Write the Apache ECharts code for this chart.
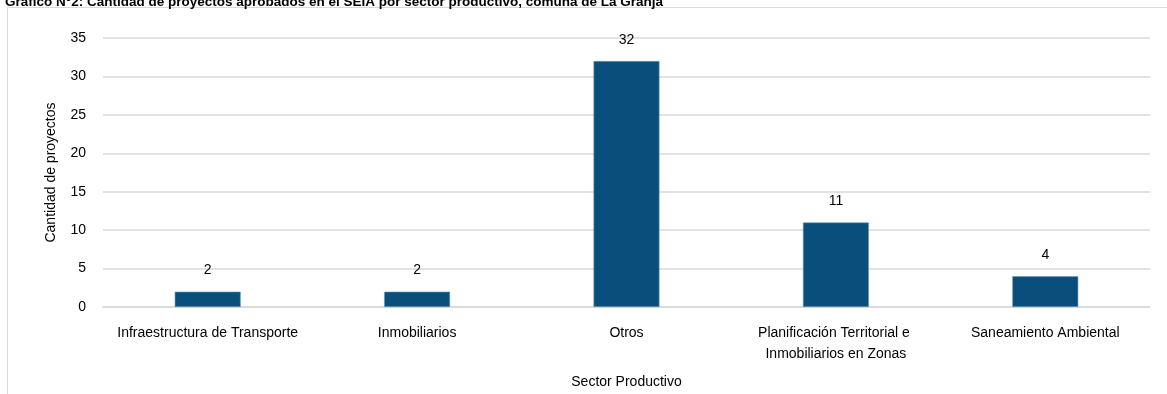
<!DOCTYPE html>
<html>
<head>
<meta charset="utf-8">
<script src="https://cdn.jsdelivr.net/npm/echarts@6/dist/echarts.min.js"></script>
<style>
html,body{margin:0;padding:0;background:#fff;}
#c{width:1167px;height:394px;}
</style>
</head>
<body>
<div id="c"></div>
<script>
const categories = ["Infraestructura de Transporte", "Inmobiliarios", "Otros", "Planificación Territorial e Inmobiliarios en Zonas", "Saneamiento Ambiental"];
const values = [2, 2, 32, 11, 4];
const yTicks = { min: 0, max: 35, interval: 5 };
const titleBold = "Gráfico N°2:";
const titleText = " Cantidad de proyectos aprobados en el SEIA por sector productivo, comuna de La Granja";
const yName = "Cantidad de proyectos";
const xName = "Sector Productivo";

const font = "'Liberation Sans', Arial, sans-serif";
const chart = echarts.init(document.getElementById('c'), null, { renderer: 'canvas' });
chart.setOption({
  animation: false,
  backgroundColor: '#fff',
  title: {
    text: '{b|' + titleBold + '}{n|' + titleText + '}',
    left: 0, top: -10,
    textStyle: {
      rich: {
        b: { fontFamily: font, fontSize: 13.5, fontWeight: 'bold', color: '#000' },
        n: { fontFamily: font, fontSize: 13.5, color: '#000' }
      }
    }
  },
  graphic: [{
    type: 'rect', silent: true,
    shape: { x: 7.5, y: 7.5, width: 1200, height: 400 },
    style: { fill: 'none', stroke: '#d9d9d9', lineWidth: 1 }
  }],
  grid: { left: 103, right: 17, top: 38, bottom: 85 },
  xAxis: {
    type: 'category',
    data: categories,
    name: xName,
    nameLocation: 'middle',
    nameGap: 68,
    nameTextStyle: { fontFamily: font, fontSize: 14, color: '#000' },
    axisLine: { show: true, lineStyle: { color: '#d9d9d9', width: 1.5 } },
    axisTick: { show: false },
    axisLabel: {
      interval: 0, margin: 16, color: '#000', fontFamily: font, fontSize: 14,
      width: 195, overflow: 'break', lineHeight: 21
    }
  },
  yAxis: {
    type: 'value',
    min: yTicks.min, max: yTicks.max, interval: yTicks.interval,
    name: yName,
    nameLocation: 'middle',
    nameGap: 45,
    nameTextStyle: { fontFamily: font, fontSize: 14, color: '#000' },
    axisLine: { show: false },
    axisTick: { show: false },
    axisLabel: { margin: 17, color: '#000', fontFamily: font, fontSize: 14 },
    splitLine: { lineStyle: { color: '#d9d9d9', width: 1.5 } }
  },
  series: [{
    type: 'bar',
    data: values,
    barWidth: '31.5%',
    itemStyle: { color: '#0a4f7c', borderColor: '#6f9bbb', borderWidth: 0.6 },
    label: { show: true, position: 'top', distance: 14, color: '#000', fontFamily: font, fontSize: 14 }
  }]
});
</script>
</body>
</html>
